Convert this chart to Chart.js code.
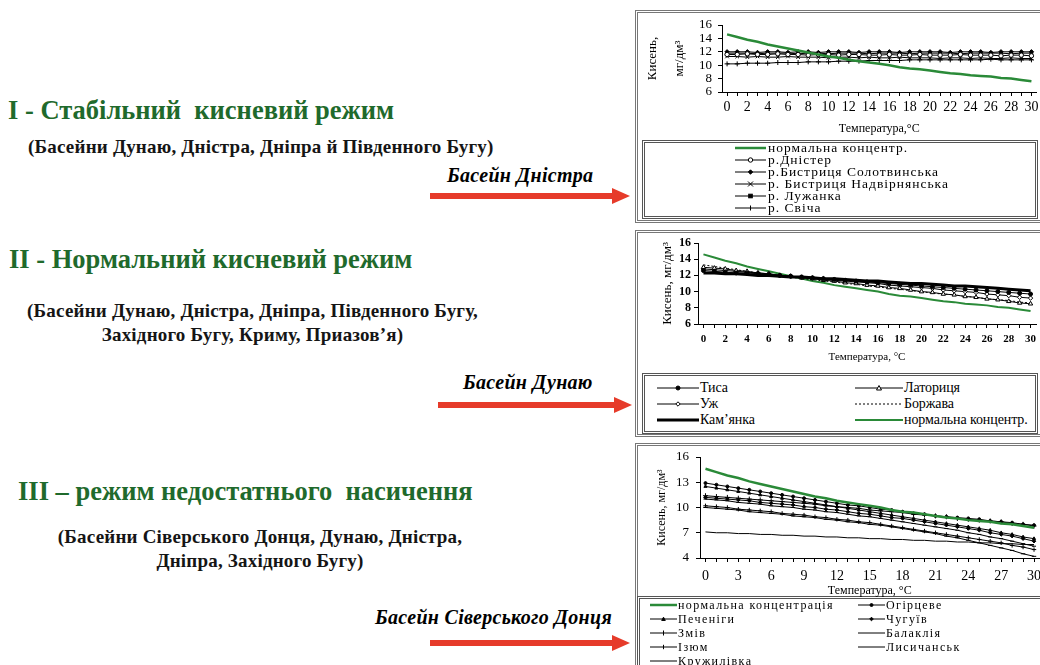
<!DOCTYPE html>
<html>
<head>
<meta charset="utf-8">
<script src="https://cdn.jsdelivr.net/npm/chart.js@4.4.0/dist/chart.umd.min.js"></script>
<style>
  body { margin: 0; width: 1040px; height: 665px; overflow: hidden; background: #fff; position: relative;
         font-family: "Liberation Serif", "Times New Roman", serif; color: #000; }
  .abs { position: absolute; white-space: nowrap; }
  .title { font-weight: bold; font-size: 26.5px; color: #1f6a2c; line-height: 28px; }
  .sub { font-size: 19px; font-weight: bold; line-height: 24px; text-align: center; color: #151515; letter-spacing: 0.2px; }
  .basin { font-size: 20px; font-weight: bold; font-style: italic; line-height: 22px; letter-spacing: 0.3px; }
  .frame { position: absolute; border: 3px double #777; box-sizing: border-box; }
  .legbox { position: absolute; border: 3px double #555; box-sizing: border-box; background: #fff; }
  .leg { position: absolute; display: grid; }
  .leg div { display: flex; align-items: center; white-space: nowrap; }
  .leg svg { flex: none; }
  canvas { position: absolute; }
</style>
</head>
<body>

<!-- left side text -->
<div class="abs title" style="left:8px;top:96px">I - Стабільний&nbsp; кисневий режим</div>
<div class="abs sub" style="left:28px;top:135px">(Басейни Дунаю, Дністра, Дніпра й Південного Бугу)</div>
<div class="abs basin" style="left:447px;top:164px">Басейн Дністра</div>

<div class="abs title" style="left:9px;top:245px">II - Нормальний кисневий режим</div>
<div class="abs sub" style="left:20px;top:299px;width:465px">(Басейни Дунаю, Дністра, Дніпра, Південного Бугу,<br>Західного Бугу, Криму, Приазов’я)</div>
<div class="abs basin" style="left:463px;top:371px">Басейн Дунаю</div>

<div class="abs title" style="left:18px;top:477px">III – режим недостатнього&nbsp; насичення</div>
<div class="abs sub" style="left:50px;top:525px;width:420px">(Басейни Сіверського Донця, Дунаю, Дністра,<br>Дніпра, Західного Бугу)</div>
<div class="abs basin" style="left:375px;top:606px">Басейн Сіверського Донця</div>

<svg class="abs" style="left:0;top:0" width="640" height="665">
  <g fill="#e63b2a">
    <rect x="430" y="193" width="184" height="6"/><polygon points="612,188 630,196 612,204"/>
    <rect x="438" y="402" width="178" height="6"/><polygon points="614,397 632,405 614,413"/>
    <rect x="430" y="640" width="184" height="6"/><polygon points="612,635 630,643 612,651"/>
  </g>
</svg>

<!-- frames and legend boxes -->
<div class="frame" style="left:635px;top:10px;width:420px;height:213px"></div>
<div class="legbox" style="left:642px;top:140px;width:396px;height:79px"></div>
<div class="frame" style="left:635px;top:230px;width:420px;height:207px"></div>
<div class="legbox" style="left:642px;top:373px;width:396px;height:61px"></div>
<div class="frame" style="left:635px;top:443px;width:420px;height:240px"></div>
<div class="legbox" style="left:637px;top:596px;width:420px;height:80px"></div>

<canvas id="c1" width="399" height="130" style="left:641px;top:12px"></canvas>
<canvas id="c2" width="399" height="140" style="left:641px;top:234px"></canvas>
<canvas id="c3" width="402" height="153" style="left:641px;top:447px"></canvas>

<div id="leg1" class="leg" style="left:735px;top:142px;grid-auto-rows:12px;font-size:13.5px;letter-spacing:1px"></div>
<div id="leg2" class="leg" style="left:657px;top:380px;grid-template-columns:198px 200px;grid-auto-rows:16px;font-size:14px;letter-spacing:-0.1px"></div>
<div id="leg3" class="leg" style="left:650px;top:598px;grid-template-rows:repeat(5,14px);grid-auto-flow:column;grid-template-columns:208px 160px;font-size:12px;letter-spacing:1.4px"></div>

<script>
// temperature, °C
const temps = [0,1,2,3,4,5,6,7,8,9,10,11,12,13,14,15,16,17,18,19,20,21,22,23,24,25,26,27,28,29,30];

// normal (saturation) oxygen concentration, mg/dm3
const normal = [14.6,14.2,13.8,13.5,13.1,12.8,12.5,12.2,11.9,11.6,11.3,11.1,10.8,10.6,10.4,10.2,10.0,9.7,9.5,9.4,9.2,9.0,8.8,8.7,8.5,8.4,8.3,8.1,8.0,7.8,7.6];

// Dniester basin
const dnister = [11.6,11.6,11.7,11.6,11.6,11.7,11.6,11.6,11.5,11.6,11.6,11.5,11.6,11.6,11.5,11.5,11.6,11.5,11.5,11.6,11.5,11.5,11.5,11.6,11.5,11.5,11.5,11.4,11.5,11.5,11.4];
const solotvynska = [12.0,12.0,12.0,11.9,12.0,12.0,11.9,12.0,12.0,11.9,12.0,12.0,12.0,11.9,12.0,12.0,12.0,11.9,12.0,12.0,12.0,12.0,11.9,12.0,12.0,12.0,11.9,12.0,12.0,12.0,12.0];
const nadvirnianska = [11.3,11.3,11.2,11.3,11.2,11.2,11.3,11.2,11.2,11.2,11.1,11.2,11.2,11.1,11.2,11.1,11.1,11.2,11.1,11.1,11.1,11.0,11.1,11.1,11.0,11.1,11.0,11.0,11.1,11.0,11.0];
const luzhanka = [11.8,11.8,11.8,11.7,11.8,11.8,11.8,11.7,11.8,11.8,11.7,11.8,11.8,11.8,11.7,11.8,11.8,11.8,11.7,11.8,11.8,11.8,11.8,11.7,11.8,11.8,11.8,11.8,11.7,11.8,11.8];
const svicha = [10.2,10.2,10.3,10.3,10.3,10.4,10.4,10.4,10.5,10.5,10.5,10.6,10.6,10.6,10.7,10.7,10.7,10.7,10.8,10.8,10.8,10.8,10.8,10.8,10.8,10.8,10.9,10.8,10.8,10.8,10.8];

// Danube basin
const tysa = [12.6,12.5,12.4,12.3,12.3,12.2,12.1,12.0,11.9,11.8,11.7,11.6,11.5,11.4,11.3,11.2,11.1,11.0,10.9,10.8,10.7,10.6,10.5,10.4,10.3,10.2,10.1,10.0,9.9,9.8,9.7];
const latorytsia = [13.0,12.9,12.8,12.6,12.5,12.3,12.2,12.0,11.9,11.7,11.6,11.4,11.3,11.1,11.0,10.8,10.7,10.5,10.4,10.2,10.0,9.9,9.7,9.6,9.4,9.3,9.1,9.0,8.8,8.6,8.5];
const uzh = [12.8,12.7,12.6,12.5,12.4,12.3,12.2,12.0,11.9,11.8,11.7,11.6,11.4,11.3,11.2,11.1,11.0,10.8,10.7,10.6,10.5,10.4,10.2,10.1,10.0,9.9,9.7,9.6,9.5,9.3,9.2];
const borzhava = [13.3,13.1,12.9,12.7,12.5,12.3,12.1,12.0,11.8,11.6,11.5,11.3,11.2,11.0,10.9,10.7,10.6,10.4,10.3,10.1,10.0,9.8,9.7,9.6,9.4,9.3,9.1,9.0,8.9,8.7,8.6];
const kamianka = [12.3,12.3,12.2,12.2,12.1,12.0,12.0,11.9,11.8,11.8,11.7,11.6,11.6,11.5,11.4,11.3,11.3,11.2,11.1,11.0,11.0,10.9,10.8,10.7,10.7,10.6,10.5,10.4,10.3,10.2,10.1];

// Siverskyi Donets basin
const pechenihy = [12.5,12.3,12.1,11.9,11.7,11.5,11.3,11.1,10.9,10.7,10.5,10.3,10.1,9.9,9.7,9.5,9.3,9.1,8.9,8.7,8.5,8.3,8.1,7.9,7.7,7.5,7.3,7.0,6.8,6.5,6.3];
const zmiv = [11.4,11.3,11.2,11.1,11.0,10.9,10.8,10.7,10.6,10.5,10.4,10.2,10.1,10.0,9.9,9.7,9.6,9.5,9.4,9.2,9.1,9.0,8.9,8.7,8.6,8.5,8.4,8.3,8.1,8.0,7.8];
const izium = [10.2,10.1,10.0,9.8,9.7,9.6,9.5,9.3,9.2,9.1,8.9,8.8,8.6,8.5,8.3,8.2,8.0,7.8,7.6,7.4,7.2,7.0,6.8,6.6,6.4,6.2,6.0,5.8,5.5,5.3,5.0];
const kruzhylivka = [10.0,9.9,9.8,9.7,9.5,9.4,9.3,9.2,9.0,8.9,8.8,8.6,8.5,8.3,8.2,8.0,7.9,7.7,7.5,7.3,7.1,6.9,6.6,6.4,6.1,5.8,5.5,5.2,4.9,4.5,4.2];
const ohirtseve = [12.9,12.7,12.5,12.3,12.1,11.9,11.7,11.5,11.3,11.1,10.9,10.7,10.5,10.3,10.2,10.0,9.8,9.7,9.5,9.3,9.2,9.0,8.9,8.8,8.7,8.6,8.4,8.3,8.2,8.0,7.9];
const chuhuiv = [11.2,11.1,11.0,10.9,10.8,10.6,10.5,10.4,10.3,10.1,10.0,9.8,9.7,9.5,9.3,9.2,9.0,8.8,8.7,8.5,8.3,8.1,7.9,7.7,7.5,7.3,7.0,6.8,6.6,6.3,6.0];
const balakliia = [11.0,10.9,10.8,10.6,10.5,10.4,10.2,10.1,10.0,9.8,9.7,9.5,9.4,9.2,9.0,8.9,8.7,8.5,8.3,8.1,7.9,7.7,7.5,7.3,7.0,6.8,6.5,6.3,6.0,5.7,5.4];
const lysychansk = [7.1,7.0,7.0,6.9,6.9,6.8,6.8,6.7,6.7,6.6,6.6,6.5,6.5,6.4,6.4,6.3,6.3,6.2,6.2,6.1,6.1,6.0,6.0,5.9,5.9,5.8,5.8,5.7,5.7,5.6,5.6];

const GREEN = '#2a8a38';
const FONT = '"Liberation Serif", "Times New Roman", serif';
Chart.defaults.font.family = FONT;
Chart.defaults.color = '#000';

function line(label, data, opts) {
  return Object.assign({
    label, data, borderColor: '#000', borderWidth: 1, fill: false, tension: 0,
    pointRadius: 0, pointStyle: 'circle', pointBackgroundColor: '#000',
    pointBorderColor: '#000', pointBorderWidth: 1, pointHoverRadius: 0
  }, opts || {});
}
function greenLine(label, w) {
  return line(label, normal, { borderColor: GREEN, borderWidth: w });
}

const set1 = [
  greenLine('нормальна концентр.', 2.5),
  line('р.Дністер', dnister, { pointRadius: 2.2, pointBackgroundColor: '#fff' }),
  line('р.Бистриця Солотвинська', solotvynska, { pointRadius: 2.2, pointStyle: 'rectRot' }),
  line('р. Бистриця Надвірнянська', nadvirnianska, { pointRadius: 2.5, pointStyle: 'crossRot' }),
  line('р. Лужанка', luzhanka, { pointRadius: 1.8, pointStyle: 'rect' }),
  line('р. Свіча', svicha, { pointRadius: 2.5, pointStyle: 'cross' })
];

const set2 = [
  line('Тиса', tysa, { pointRadius: 2 }),
  line('Латориця', latorytsia, { pointRadius: 2.5, pointStyle: 'triangle', pointBackgroundColor: '#fff' }),
  line('Уж', uzh, { pointRadius: 2.2, pointStyle: 'rectRot', pointBackgroundColor: '#fff' }),
  line('Боржава', borzhava, { borderDash: [2, 2] }),
  line('Кам\u2019янка', kamianka, { borderWidth: 3 }),
  greenLine('нормальна концентр.', 2)
];

const set3 = [
  greenLine('нормальна концентрація', 2.5),
  line('Печеніги', pechenihy, { pointRadius: 1.8, pointStyle: 'triangle' }),
  line('Змів', zmiv, { pointRadius: 2.5, pointStyle: 'cross' }),
  line('Ізюм', izium, { pointRadius: 2.2, pointStyle: 'cross' }),
  line('Кружилівка', kruzhylivka, { pointRadius: 2.2, pointStyle: 'line' }),
  line('Огірцеве', ohirtseve, { pointRadius: 1.5 }),
  line('Чугуїв', chuhuiv, { pointRadius: 1.8, pointStyle: 'rectRot' }),
  line('Балаклія', balakliia, { pointRadius: 2, pointStyle: 'line' }),
  line('Лисичанськ', lysychansk, {})
];

function makeChart(id, datasets, o) {
  return new Chart(document.getElementById(id), {
    type: 'line',
    data: { labels: temps.map(String), datasets },
    options: {
      responsive: false, animation: false, devicePixelRatio: 1,
      layout: { padding: { top: o.padTop, right: o.padRight, left: 0, bottom: 0 } },
      plugins: { legend: { display: false }, tooltip: { enabled: false } },
      scales: {
        x: {
          type: 'category', offset: true,
          grid: { drawOnChartArea: false, drawTicks: true, tickLength: 4, color: '#000' },
          border: { color: '#000', width: 1 },
          ticks: {
            autoSkip: false, maxRotation: 0, padding: o.xPad, font: o.xFont,
            callback(v, i) { return i % o.xStep === 0 ? this.getLabelForValue(v) : ''; }
          },
          title: { display: true, text: o.xTitle, font: o.titleFont, padding: { top: 0, bottom: o.xTitlePad } },
          afterFit(s) { s.height = o.xHeight; s.paddingLeft = 0; s.paddingRight = 0; }
        },
        y: {
          min: o.yMin, max: o.yMax,
          grid: { drawOnChartArea: false, drawTicks: true, tickLength: 4, color: '#000' },
          border: { color: '#000', width: 1 },
          ticks: { stepSize: o.yStep, autoSkip: false, padding: o.yPad, font: o.yFont },
          title: { display: true, text: o.yTitle, font: o.yTitleFont, padding: { top: o.yTitlePad, bottom: 0 } },
          afterFit(s) { s.width = o.yWidth; s.paddingTop = 0; s.paddingBottom = 0; }
        }
      }
    }
  });
}

makeChart('c1', set1, {
  padTop: 13, padRight: 3, yMin: 6, yMax: 16, yStep: 2, xStep: 2,
  xFont: { size: 14 }, yFont: { size: 13 }, xPad: 3, yPad: 6,
  xTitle: 'Температура,°C', titleFont: { size: 12 }, xTitlePad: 6, xHeight: 50,
  yTitle: ['Кисень,', 'мг/дм³'], yTitleFont: { size: 13, lineHeight: '27px' }, yTitlePad: -2, yWidth: 81
});

makeChart('c2', set2, {
  padTop: 9, padRight: 4, yMin: 6, yMax: 16, yStep: 2, xStep: 2,
  xFont: { size: 11, weight: 'bold' }, yFont: { size: 12, weight: 'bold' }, xPad: 5, yPad: 3,
  xTitle: 'Температура, °C', titleFont: { size: 11 }, xTitlePad: 10, xHeight: 50,
  yTitle: 'Кисень, мг/дм³', yTitleFont: { size: 13 }, yTitlePad: 19, yWidth: 57
});

makeChart('c3', set3, {
  padTop: 10, padRight: 1, yMin: 4, yMax: 16, yStep: 3, xStep: 3,
  xFont: { size: 14 }, yFont: { size: 13 }, xPad: 6, yPad: 7,
  xTitle: 'Температура, °C', titleFont: { size: 12 }, xTitlePad: 2, xHeight: 42,
  yTitle: 'Кисень, мг/дм³', yTitleFont: { size: 12 }, yTitlePad: 14, yWidth: 59
});

// legend samples as small svg lines with the dataset marker
function sample(ds, w) {
  const h = 10, y = 5, cx = w / 2, r = ds.pointRadius;
  const dash = ds.borderDash ? ` stroke-dasharray="${ds.borderDash.join(',')}"` : '';
  let s = `<svg width="${w}" height="${h}"><line x1="0" y1="${y}" x2="${w}" y2="${y}" stroke="${ds.borderColor}" stroke-width="${ds.borderWidth}"${dash}/>`;
  const f = ds.pointBackgroundColor;
  if (r > 0) {
    if (ds.pointStyle === 'circle') s += `<circle cx="${cx}" cy="${y}" r="${r}" fill="${f}" stroke="#000"/>`;
    else if (ds.pointStyle === 'rect') s += `<rect x="${cx - r}" y="${y - r}" width="${2 * r}" height="${2 * r}" fill="${f}" stroke="#000"/>`;
    else if (ds.pointStyle === 'rectRot') s += `<polygon points="${cx},${y - r} ${cx + r},${y} ${cx},${y + r} ${cx - r},${y}" fill="${f}" stroke="#000"/>`;
    else if (ds.pointStyle === 'triangle') s += `<polygon points="${cx},${y - r} ${cx + r},${y + r * 0.8} ${cx - r},${y + r * 0.8}" fill="${f}" stroke="#000"/>`;
    else if (ds.pointStyle === 'cross') s += `<line x1="${cx}" y1="${y - r}" x2="${cx}" y2="${y + r}" stroke="#000"/>`;
    else if (ds.pointStyle === 'crossRot') s += `<path d="M${cx - r},${y - r}L${cx + r},${y + r}M${cx - r},${y + r}L${cx + r},${y - r}" stroke="#000"/>`;
  }
  return s + '</svg>';
}
function legend(id, sets, widths, gap) {
  document.getElementById(id).innerHTML = sets.map((ds, i) =>
    `<div>${sample(ds, widths[i % widths.length])}<span style="margin-left:${gap}px">${ds.label}</span></div>`).join('');
}
legend('leg1', set1, [31], 2);
legend('leg2', set2, [42, 48], 1);
legend('leg3', set3, [27], 1);
</script>
</body>
</html>
